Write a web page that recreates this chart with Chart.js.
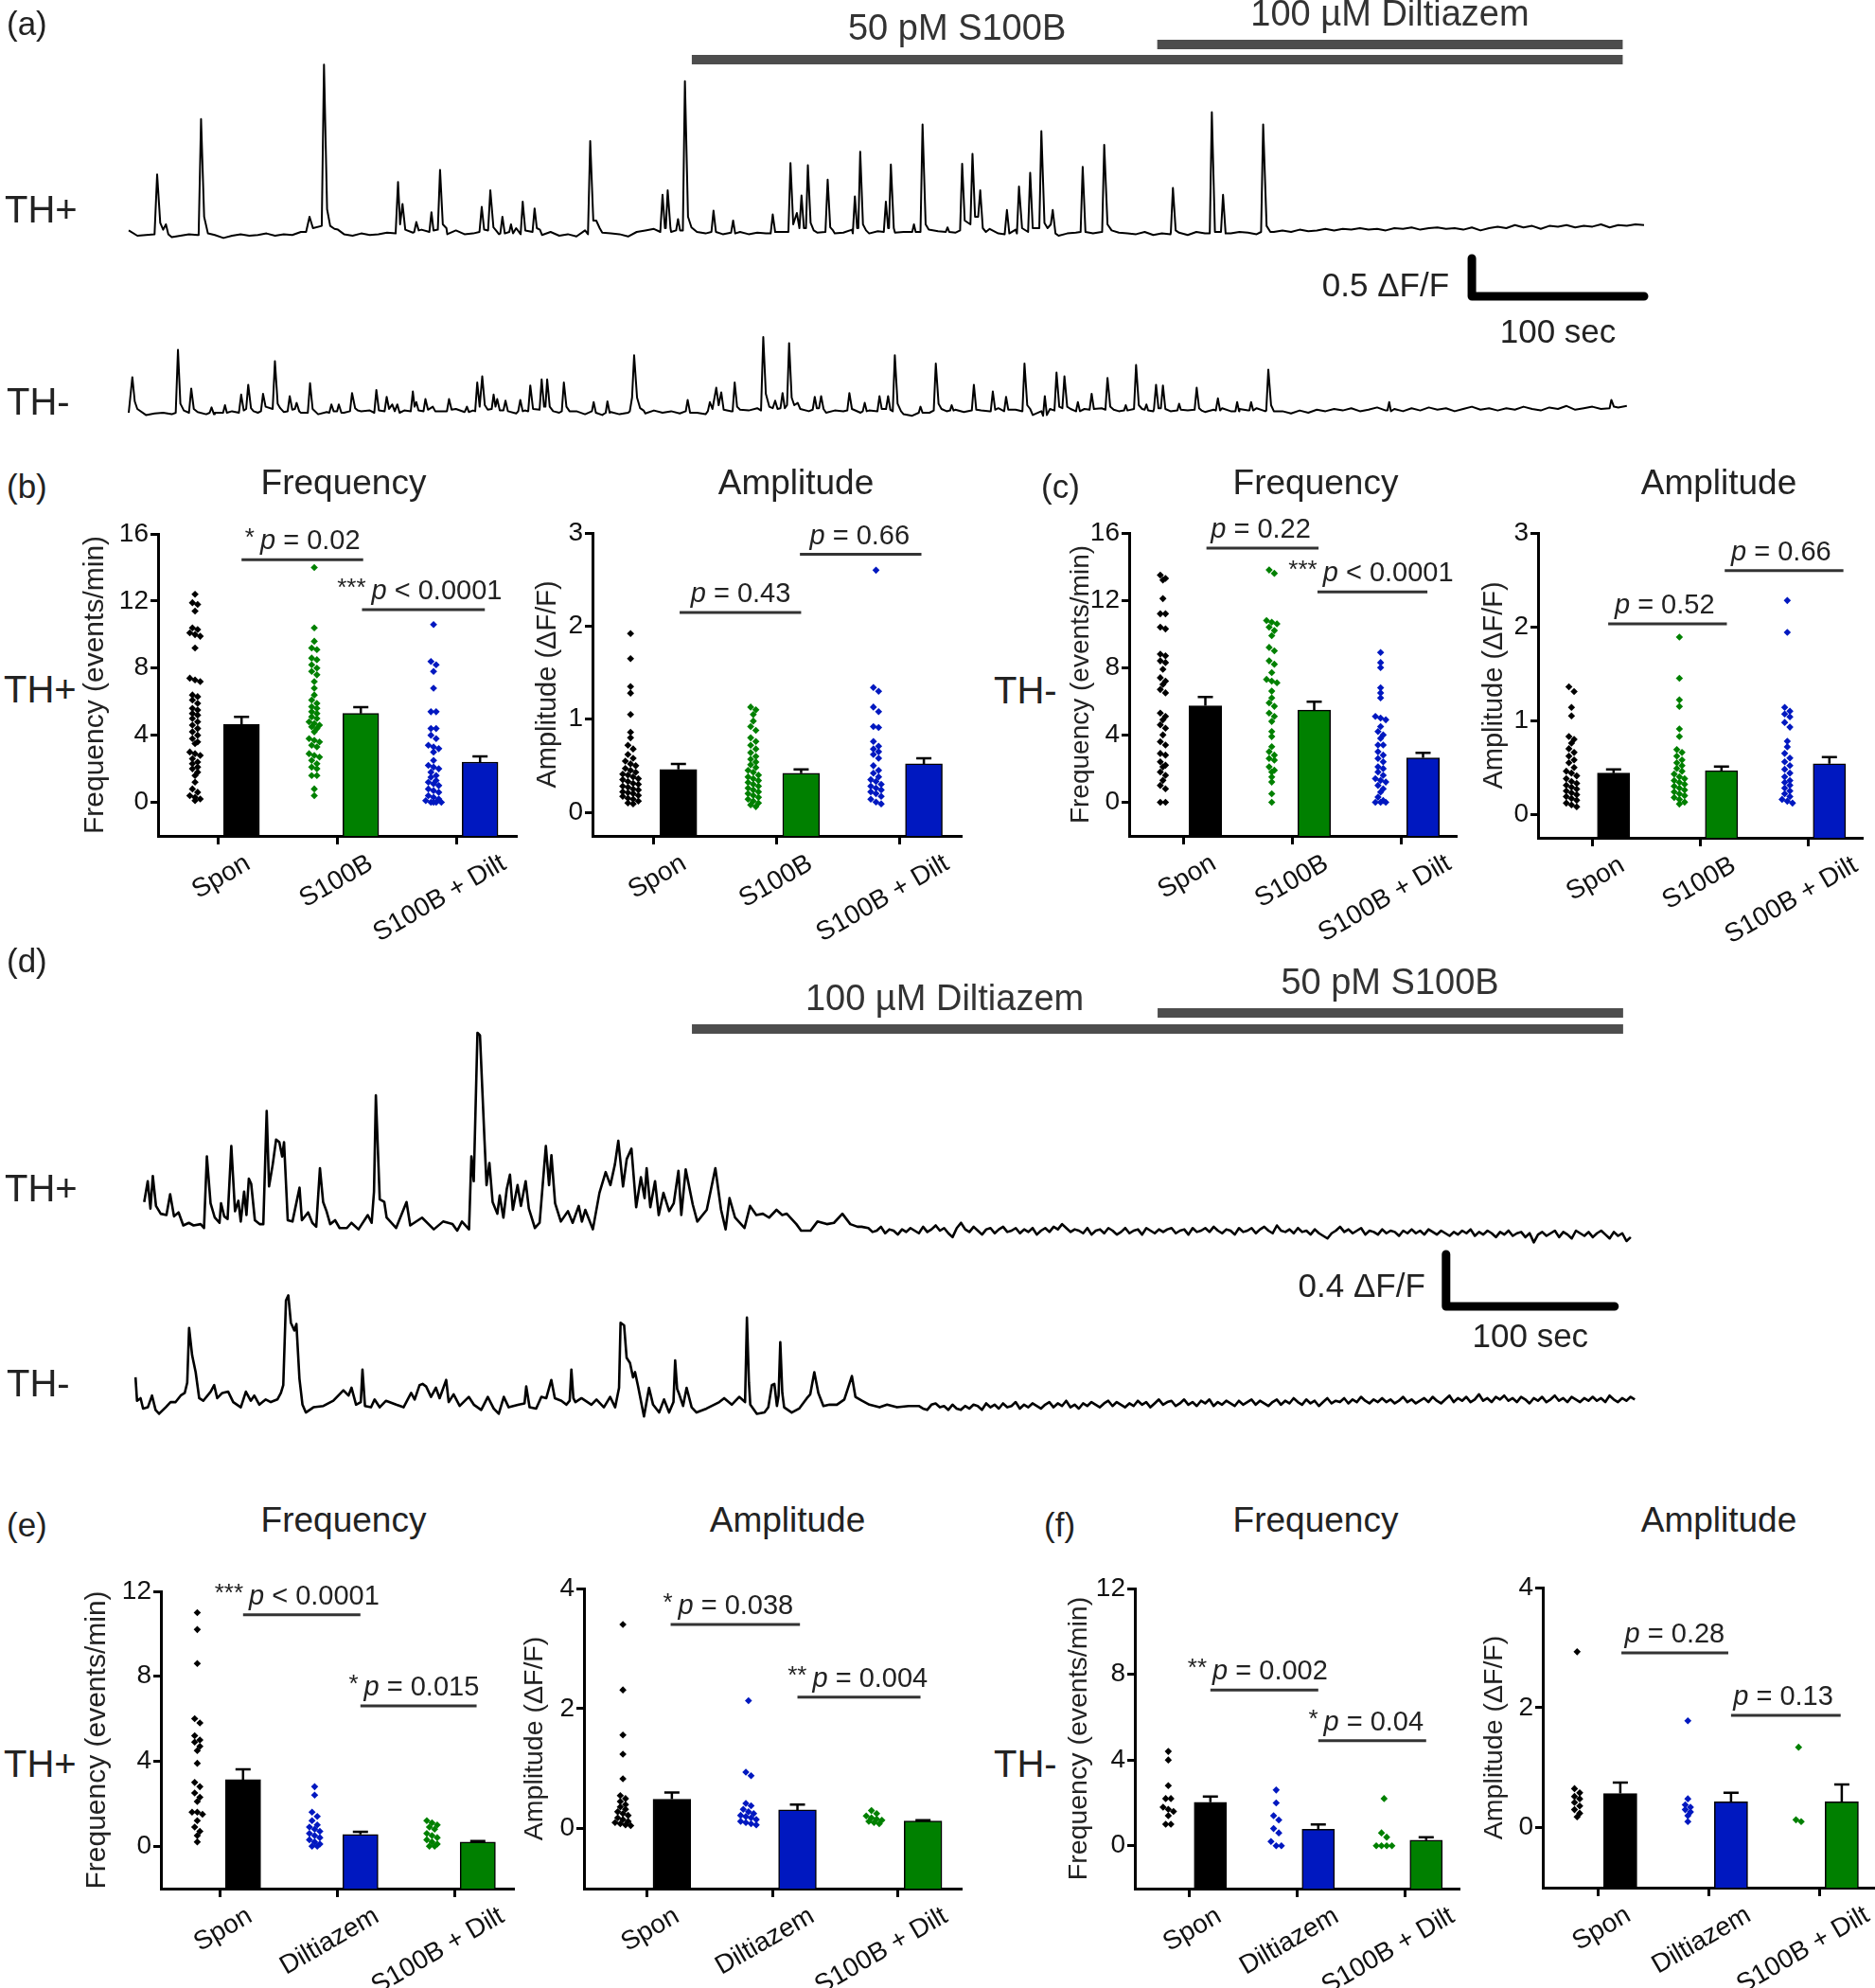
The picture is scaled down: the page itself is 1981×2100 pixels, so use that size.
<!DOCTYPE html>
<html>
<head>
<meta charset="utf-8">
<script src="https://cdn.jsdelivr.net/npm/chart.js@4.4.1/dist/chart.umd.min.js"></script>
<style>
  html, body { margin: 0; padding: 0; background: #fff; overflow: hidden; }
  #fig { position: relative; width: 1981px; height: 2100px; font-family: "Liberation Sans", Arial, sans-serif; color: #222; }
  #fig canvas { position: absolute; }
  .lbl { position: absolute; white-space: nowrap; line-height: 1; }
</style>
</head>
<body>
<div id="fig"></div>
<script>
// ---------- calcium traces (time in s, value in dF/F) ----------
// (a) TH+ : baseline every 5 s from t = 0, plus spikes
const aThPlusBase = [
  0.02,-0.05,-0.04,-0.06,-0.03,-0.07,-0.05,-0.03,-0.04,-0.06,
  -0.04,-0.08,-0.05,-0.03,-0.05,-0.04,-0.02,-0.05,-0.03,-0.04,
  0.0,0.02,-0.03,-0.02,-0.04,-0.03,-0.05,-0.02,-0.04,-0.03,
  -0.01,0.02,0.0,-0.01,0.03,-0.02,0.01,-0.03,0.02,-0.03,
  -0.02,0.04,0.0,-0.03,0.03,0.05,-0.02,0.0,-0.04,0.0,
  -0.05,-0.03,-0.06,0.02,0.03,-0.01,-0.02,-0.03,-0.06,0.0,
  0.02,0.04,0.01,0.0,0.02,-0.03,0.0,-0.02,0.01,-0.03,
  -0.02,0.0,-0.03,-0.01,-0.02,0.02,0.0,-0.01,0.0,0.01,
  -0.01,0.0,-0.02,-0.01,0.03,0.0,-0.02,0.01,0.0,-0.01,
  0.0,0.02,0.0,0.03,0.01,0.02,-0.01,0.03,0.02,0.0,
  0.04,-0.02,0.01,0.03,-0.04,-0.03,0.0,-0.05,-0.03,-0.02,
  -0.01,-0.03,-0.02,0.0,0.02,-0.01,-0.02,-0.03,0.0,-0.04,
  -0.02,-0.03,-0.01,-0.04,0.0,-0.02,0.0,-0.03,-0.02,0.0,
  -0.01,-0.03,-0.02,0.0,0.02,0.0,0.03,0.01,0.02,0.04,
  0.02,0.04,0.03,0.05,0.03,0.04,0.02,0.05,0.04,0.06,
  0.03,0.05,0.06,0.04,0.05,0.03,0.06,0.02,0.05,0.07,
  0.05,0.09,0.06,0.08,0.04,0.08,0.07,0.09,0.06,0.08,
  0.07,0.1,0.06,0.09,0.08,0.1,0.09
];
const aThPlusSpikes = [
  [[15,-0.03],[16.5,0.76],[18.3,0.12],[20,0.03],[21.6,0.1],[23,-0.03]],
  [[40.6,-0.04],[42,1.49],[43.8,0.2],[46,-0.02]],
  [[103,0.0],[105,0.2],[107,0.05],[112.1,0.08],[113.4,2.21],[115.2,0.3],[117,0.08],[119.5,0.04],[121.5,0.03]],
  [[155,-0.02],[156.4,0.66],[157.6,0.1],[159,0.37],[160.6,0.03]],
  [[165.8,0.0],[167,0.13],[168.4,0.02]],
  [[174.6,0.0],[175.8,0.26],[177,0.02],[179.5,0.03],[180.8,0.82],[182.4,0.1],[184.5,0.05]],
  [[203.7,0.0],[205,0.33],[206.4,0.03],[208.7,0.02],[210,0.55],[211.8,0.06],[213.3,0.02]],
  [[215.8,-0.02],[217,0.2],[218.4,-0.02],[221,0.0],[222,0.1],[223.2,-0.02]],
  [[227.6,-0.03],[228.8,0.4],[230.3,0.02]],
  [[234.5,0.0],[235.7,0.31],[237,0.05],[238.8,0.03]],
  [[266.7,-0.03],[268,1.2],[269.8,0.15],[271.5,0.15],[273.5,0.05]],
  [[308.7,0.0],[310,0.49],[311.4,0.05],[311.9,0.05],[313,0.55],[314.6,0.05]],
  [[317.9,0.02],[319,0.17],[320.2,0.02]],
  [[321.8,0.02],[323,1.99],[324.8,0.2],[326.8,0.06]],
  [[338.4,0.0],[339.6,0.28],[341,0.0]],
  [[349.8,-0.01],[351,0.15],[352.2,-0.02]],
  [[372.8,-0.02],[374,0.23],[375.4,0.0]],
  [[383.1,0.0],[384.3,0.91],[385.9,0.1],[388,0.25],[389.5,0.05],[390.7,0.48],[392.1,0.05],[393.3,0.05],[394.4,0.88],[396,0.12],[397.8,0.02]],
  [[404.6,0.0],[405.9,0.69],[407.4,0.06],[409,0.02]],
  [[420.5,-0.02],[421.7,0.47],[423,0.05],[423.7,0.05],[424.8,1.06],[426.4,0.1],[428.2,0.02]],
  [[438.5,0.0],[439.7,0.4],[441,0.05],[441.5,0.05],[442.6,0.89],[444.3,0.05]],
  [[455,0.0],[456,0.1],[457,0.0],[459.8,0.0],[461,1.42],[462.8,0.1],[464.6,0.03]],
  [[474.5,0.0],[475.5,0.06],[476.5,0.0]],
  [[482.8,0.02],[484,0.9],[485.5,0.15],[488.8,0.1],[490,1.03],[491.5,0.2],[493.3,0.2],[494.5,0.55],[496,0.05],[497.8,0.0]],
  [[508.7,-0.03],[510,0.29],[511.4,-0.02]],
  [[515.8,-0.02],[517,0.6],[518.8,0.05],[522.3,0.0],[523.5,0.78],[525,0.05],[528.8,0.05],[530,1.33],[531.8,0.12],[533.6,0.05],[535.5,0.1],[536.6,0.29],[538.2,-0.02],[540,-0.05]],
  [[552.8,0.0],[554,0.86],[555.6,0.0]],
  [[565.3,0.0],[566.5,1.15],[568.4,0.1],[570.8,0.02]],
  [[605.2,0.0],[606.4,0.58],[608,0.02]],
  [[627.8,-0.02],[629,1.58],[630.8,0.0],[634.3,0.0],[635.5,0.49],[637,-0.02]],
  [[657.6,0.0],[658.8,1.42],[660.8,0.08],[663,0.0]]
];

// (a) TH- : baseline every 5 s from t = 0, plus spikes
const aThMinusBase = [
  0.0,-0.02,-0.03,-0.01,0.0,-0.02,0.02,-0.01,0.01,-0.02,
  0.0,-0.03,0.02,-0.01,0.03,0.0,-0.02,0.03,0.01,-0.02,
  0.0,0.02,-0.02,0.01,0.04,0.0,-0.01,0.02,0.03,-0.01,
  0.02,-0.02,0.03,0.0,0.04,-0.01,0.02,0.0,0.05,0.01,
  0.03,0.0,0.04,-0.02,0.02,-0.01,0.03,0.0,-0.02,0.02,
  0.0,-0.03,0.02,-0.02,0.0,-0.03,0.01,-0.02,0.0,0.02,
  -0.01,0.03,0.0,0.02,-0.01,0.02,0.0,-0.02,0.03,0.01,
  0.02,0.05,0.03,0.06,0.02,0.04,0.01,0.03,0.05,0.02,
  0.04,0.0,0.03,0.02,0.05,0.0,0.03,0.02,0.04,0.01,
  -0.02,-0.04,-0.03,0.0,0.03,0.02,0.04,0.01,0.05,0.03,
  0.02,0.06,0.0,0.04,0.01,-0.03,0.02,0.05,0.03,0.04,
  0.02,0.05,0.0,0.06,0.03,0.02,0.07,0.03,0.05,0.02,
  0.04,0.02,0.06,0.03,0.05,0.01,0.04,0.06,0.02,0.05,
  0.03,0.06,0.02,0.0,0.02,-0.01,0.03,0.0,0.04,0.02,
  0.05,0.03,0.06,0.02,0.04,0.07,0.03,0.05,0.02,0.06,
  0.03,0.07,0.04,0.06,0.02,0.05,0.08,0.04,0.06,0.03,
  0.06,0.04,0.08,0.05,0.03,0.07,0.05,0.09,0.04,0.06,
  0.08,0.05,0.12,0.07,0.09
];
const aThMinusSpikes = [
  [[0.5,0.0],[2.1,0.47],[3.5,0.15],[5,0.05]],
  [[27.3,0.0],[28.6,0.83],[30,0.12],[32,0.03]],
  [[35,0.0],[36.3,0.32],[37.8,0.05]],
  [[47,0.0],[48.1,0.07],[49.5,-0.02]],
  [[54.8,0.0],[55.9,0.1],[57,0.0]],
  [[64,0.0],[65.3,0.24],[66.8,0.03],[68.2,0.05],[69.4,0.37],[71,0.06],[72.5,0.02]],
  [[76.8,0.02],[78,0.25],[79.5,0.08],[83.6,0.05],[84.9,0.68],[86.5,0.12],[88,0.06]],
  [[92.3,0.02],[93.5,0.22],[95,0.04],[96.5,0.05],[97.5,0.13],[99,0.02]],
  [[104,0.0],[105.3,0.39],[106.8,0.05]],
  [[116.5,0.0],[117.7,0.11],[119,0.02],[121,0.02],[122,0.11],[123.5,0.0]],
  [[128.5,0.02],[129.7,0.26],[131.5,0.06],[133,0.03]],
  [[142.6,0.0],[143.8,0.3],[145.3,0.03],[148.6,0.02],[149.8,0.21],[151.2,0.05],[153,0.11],[154.5,0.02],[156,0.11],[157.3,0.0]],
  [[163.8,0.02],[165,0.28],[166,0.08],[167,0.14],[168.3,0.03],[171.2,0.02],[172.3,0.18],[173.8,0.04],[176.6,0.08],[178,0.02]],
  [[184.8,0.02],[186,0.18],[187.5,0.04]],
  [[195.3,0.02],[196.4,0.08],[197.5,0.01]],
  [[201.2,0.02],[202.4,0.4],[203.8,0.08],[205.3,0.48],[206.8,0.1],[208.5,0.04],[210.8,0.05],[211.9,0.24],[213,0.08],[214,0.18],[215.5,0.03],[217.6,0.03],[218.8,0.16],[220.2,0.02]],
  [[226.2,0.02],[227.4,0.17],[228.8,0.02]],
  [[232,0.02],[233.2,0.36],[234.8,0.05],[238.6,0.04],[239.8,0.44],[241.2,0.08],[242,0.08],[243,0.44],[244.5,0.08],[246.5,0.02]],
  [[251.5,0.02],[252.7,0.4],[254.2,0.08],[256,0.02]],
  [[269,0.02],[270,0.14],[271.3,0.0]],
  [[277,0.0],[278,0.15],[279.3,0.0]],
  [[291,0.02],[292.3,0.2],[293.5,0.76],[295.2,0.2],[297,0.06],[299,0.03]],
  [[323.5,0.02],[324.6,0.17],[326,0.0]],
  [[336.3,0.02],[337.5,0.14],[339,0.05],[341.2,0.33],[342.6,0.1],[344.1,0.27],[345.5,0.04]],
  [[350.7,0.02],[351.9,0.4],[353.3,0.08],[355,0.04]],
  [[367.2,0.03],[368.5,1.0],[370,0.25],[372,0.08],[374,0.06],[375.4,0.16],[376.8,0.05],[378.5,0.06],[379.7,0.26],[381,0.06],[382.3,0.1],[383.5,0.92],[385,0.2],[386.5,0.1],[388.5,0.13],[390,0.05]],
  [[397.2,0.04],[398.4,0.21],[399.6,0.06],[400.9,0.06],[402.1,0.22],[403.5,0.05]],
  [[417.3,0.03],[418.5,0.26],[420,0.05]],
  [[426.3,0.02],[427.4,0.13],[428.6,0.02]],
  [[434.8,0.02],[436,0.22],[437.3,0.05],[439.8,0.05],[441,0.22],[442.3,0.04],[443.7,0.02],[444.9,0.76],[446.5,0.12],[448.5,0.02]],
  [[458.8,0.0],[459.8,0.08],[461,0.0]],
  [[467.5,0.03],[468.7,0.65],[470.3,0.12],[472,0.05]],
  [[477,0.03],[477.9,0.1],[479,0.03]],
  [[489.6,0.03],[490.8,0.37],[492.2,0.04]],
  [[500.6,0.02],[501.8,0.28],[503.2,0.04]],
  [[508.4,0.02],[509.5,0.21],[510.8,0.04]],
  [[519,0.02],[520.2,0.65],[521.8,0.1],[523.5,0.05]],
  [[531,-0.04],[532,0.22],[533.2,-0.03]],
  [[537.6,0.03],[538.8,0.53],[540.4,0.08],[542.2,0.06],[543.4,0.48],[545,0.08],[547,0.05]],
  [[550.2,0.03],[551.2,0.14],[552.4,0.02]],
  [[558,0.04],[559.2,0.25],[560.5,0.05]],
  [[567.2,0.04],[568.4,0.46],[570,0.08],[572,0.04]],
  [[578,0.03],[579,0.1],[580,0.03]],
  [[583.8,0.05],[585,0.63],[586.6,0.1],[588.5,0.05],[590,0.04],[591,0.11],[592,0.03]],
  [[595.4,0.05],[596.6,0.37],[598,0.06],[599.4,0.06],[600.6,0.36],[602,0.05]],
  [[609,0.03],[610,0.12],[611,0.04]],
  [[619,0.04],[620.2,0.33],[621.6,0.06],[623,0.03]],
  [[631.3,0.03],[632.5,0.19],[633.8,0.03]],
  [[642.7,0.02],[643.7,0.14],[644.8,0.02]],
  [[650.8,0.03],[651.8,0.14],[653,0.03]],
  [[660.6,0.03],[661.8,0.57],[663.4,0.1],[665,0.02]],
  [[731,0.03],[732,0.14],[733,0.02]],
  [[860,0.06],[861,0.17],[862.5,0.08]]
];

// (d) TH+ : read point by point over the active part, then every 2.5 s from t = 430
const dThPlusActive = [
  [0.2,0.22],[2.3,0.38],[3.9,0.17],[5.3,0.42],[7.2,0.19],[10,0.13],[13.4,0.12],[15.6,0.28],[17.9,0.11],[20.6,0.14],
  [23.4,0.04],[26.7,0.06],[29.5,0.04],[33.7,0.05],[35.7,0.02],[37.4,0.57],[39.6,0.21],[42.1,0.1],[44.9,0.06],[45.8,0.21],
  [47.7,0.11],[49.7,0.09],[51.9,0.65],[54.1,0.15],[56.1,0.23],[57.5,0.07],[59.5,0.3],[60.9,0.12],[62.3,0.4],[63.7,0.36],
  [65.9,0.08],[68.7,0.05],[70.9,0.05],[72.9,0.92],[74.3,0.34],[76.5,0.51],[78.5,0.7],[80.4,0.68],[82.1,0.57],[83.2,0.68],
  [85.4,0.08],[88.2,0.07],[92.4,0.33],[93.8,0.08],[97.5,0.14],[100,0.06],[102.3,0.03],[104.5,0.48],[106.4,0.22],[108.4,0.15],
  [110.6,0.05],[113.5,0.08],[116.2,0.02],[120.5,0.02],[123.2,0.06],[127.4,0.01],[132.9,0.12],[135.2,0.06],[136.6,0.3],[137.7,1.04],
  [140,0.24],[142.7,0.22],[144.1,0.1],[149.7,0.02],[155.9,0.22],[158.1,0.04],[165.1,0.1],[172.1,0.01],[177.6,0.07],[183.2,0.05],
  [186,0.0],[188.8,0.07],[193,0.01],[194.4,0.57],[195.8,0.38],[198,1.52],[199.5,1.5],[202.2,0.69],[203.4,0.35],[205.1,0.52],
  [207,0.22],[209.8,0.13],[211.2,0.27],[213.4,0.1],[215.4,0.32],[217.3,0.43],[219,0.16],[221.8,0.35],[223.8,0.19],[226.6,0.38],
  [228.5,0.17],[232.1,0.02],[234.9,0.06],[238.6,0.65],[240.5,0.35],[241.9,0.58],[244.1,0.21],[247.5,0.07],[251.7,0.15],[254.5,0.06],
  [258.1,0.19],[260,0.07],[262,0.16],[266.5,0.01],[270.4,0.29],[274.1,0.45],[276.9,0.35],[279.6,0.51],[281.6,0.69],[284.4,0.34],
  [286.6,0.55],[289.4,0.63],[292.2,0.18],[295,0.41],[297.2,0.25],[298.4,0.48],[300.6,0.18],[303.4,0.38],[305.6,0.12],[308.4,0.29],
  [311.8,0.15],[314.5,0.21],[317.3,0.46],[319,0.12],[321.6,0.47],[325.8,0.2],[328.5,0.07],[334.1,0.16],[339.2,0.48],[342.6,0.16],
  [345.3,0.01],[347.6,0.25],[350.9,0.1],[356.5,0.02],[359.8,0.19],[363.5,0.12],[367.4,0.13],[371.1,0.1],[375.5,0.16],[378.9,0.12],
  [381.6,0.13],[387.3,0.05],[390.1,0.0],[395.7,0.0],[399.8,0.07],[405.4,0.05],[409.6,0.06],[414.6,0.13],[419.3,0.05],[423.6,0.03],
  [426,0.03]
];
const dThPlusTail = [
  0.02,-0.01,0.0,0.03,-0.02,0.01,0.0,-0.03,0.01,-0.01,
  0.02,0.0,-0.02,0.03,-0.01,0.01,0.04,0.0,0.02,-0.02,
  -0.05,0.02,0.06,0.01,-0.01,0.03,0.0,-0.03,0.01,0.02,
  -0.02,0.01,0.03,-0.01,0.0,0.02,-0.02,0.01,-0.01,0.02,
  -0.03,0.0,0.02,-0.01,0.03,0.01,0.05,0.02,-0.01,0.01,
  0.0,-0.02,0.02,-0.03,0.0,0.01,-0.02,0.02,0.0,-0.03,
  -0.01,0.02,-0.02,0.0,0.01,-0.03,0.02,0.0,-0.02,0.01,
  -0.01,0.01,0.02,-0.02,0.0,0.01,-0.03,0.02,-0.01,0.0,
  0.02,-0.01,0.03,0.0,-0.02,0.01,0.0,-0.03,0.02,-0.01,
  0.0,0.02,-0.02,0.01,0.03,0.0,-0.02,0.04,0.0,-0.01,
  0.01,-0.02,0.02,-0.01,0.0,-0.03,0.01,-0.02,-0.04,-0.06,
  -0.02,0.0,0.03,-0.01,0.01,-0.02,0.0,0.02,-0.03,0.0,
  -0.01,-0.03,0.01,-0.02,0.0,-0.01,-0.04,0.0,-0.02,0.01,
  -0.02,0.0,-0.03,0.01,-0.01,-0.03,0.0,-0.02,-0.04,-0.01,
  -0.03,0.0,-0.02,0.01,-0.04,-0.01,-0.03,0.0,-0.02,-0.05,
  -0.01,-0.03,0.0,-0.04,-0.02,-0.01,-0.05,-0.02,-0.09,-0.03,
  -0.01,-0.04,-0.02,0.0,-0.05,-0.01,-0.03,-0.06,0.0,-0.02,
  -0.04,-0.01,-0.05,-0.02,0.0,-0.03,-0.06,-0.01,-0.04,-0.02,
  -0.08,-0.05
];

// (d) TH- : read point by point over the active part, then every 2.5 s from t = 465
const dThMinusActive = [
  [0.1,0.24],[1.0,0.06],[3.1,0.08],[4.6,0.0],[7.4,0.01],[9.9,0.1],[12,-0.01],[14.1,-0.04],[18,0.01],[20.9,0.05],
  [23.9,0.05],[26.9,0.1],[29.3,0.12],[30.8,0.2],[31.9,0.62],[33.7,0.41],[35.8,0.28],[37.9,0.08],[40.3,0.06],[44.7,0.13],
  [46.8,0.18],[48.6,0.08],[51.6,0.12],[55.1,0.13],[58.1,0.05],[62.6,0.01],[65.6,0.13],[68.5,0.06],[70.6,0.1],[73.6,0.03],
  [77.4,0.07],[80.4,0.05],[84.3,0.07],[86.4,0.12],[87.8,0.18],[89.4,0.83],[90.8,0.87],[92.3,0.66],[94.4,0.6],[95.6,0.65],
  [97.4,0.23],[99.2,0.03],[101.2,-0.03],[105.7,0.01],[111.6,0.02],[117.5,0.06],[122,0.12],[123.5,0.14],[126.5,0.1],[128.3,0.16],
  [131,0.03],[133.8,0.05],[134.8,0.3],[136.3,0.02],[139.9,0.01],[142,0.07],[145,0.01],[148.8,0.06],[154.8,0.03],[159.2,0.01],
  [163.7,0.12],[165.8,0.07],[168.7,0.18],[170.5,0.19],[172.6,0.17],[175.5,0.09],[178.4,0.16],[180.6,0.08],[184.5,0.22],[186,0.05],
  [188.9,0.11],[192.5,0.02],[197.9,0.09],[200.9,0.03],[205.3,-0.01],[209.2,0.09],[212.7,0.0],[215.7,-0.04],[218.7,0.09],[221.6,0.01],
  [227.6,0.03],[231,0.04],[232,0.17],[234,0.01],[237.9,0.0],[241,0.09],[243.9,0.08],[246.9,0.22],[249,0.08],[252.9,0.06],
  [255.8,0.03],[257.8,0.06],[258.8,0.3],[260,0.08],[261.2,0.05],[264.8,0.08],[270.7,0.03],[273.7,0.07],[278.1,0.01],[281.8,0.09],
  [284.8,0.01],[287.1,0.16],[288,0.66],[290.1,0.64],[291.6,0.39],[293.6,0.35],[295.4,0.24],[296.6,0.28],[298.4,0.17],[301.9,-0.06],
  [304.9,0.16],[307.3,0.03],[310.9,-0.03],[313.8,0.07],[316.8,-0.03],[319.4,0.05],[320.4,0.37],[321.6,0.15],[322.8,0.11],[325.1,0.02],
  [327.2,0.16],[330.2,0.01],[333.1,-0.03],[339,0.0],[346.6,0.05],[349.5,0.08],[354,0.03],[358.4,0.09],[361.9,0.05],[363,0.7],
  [364.2,0.2],[365,0.03],[368.9,-0.04],[373.4,-0.03],[375.7,0.01],[377.8,0.18],[379.3,0.19],[380.8,0.02],[381.8,0.1],[382.8,0.51],
  [384,0.12],[385.1,0.01],[389.6,-0.03],[394,0.0],[398.6,0.08],[400.6,0.11],[403,0.28],[405.4,0.12],[408.4,0.02],[412,0.03],
  [416.4,0.03],[420.8,0.07],[425.3,0.25],[427.4,0.09],[431.3,0.06],[435.7,0.03],[441.7,0.01],[446.2,0.03],[452.1,0.01],[459,0.02]
];
const dThMinusTail = [
  0.02,0.0,-0.01,0.03,0.04,0.01,0.02,-0.01,0.03,0.0,
  -0.01,0.02,0.0,0.03,0.02,-0.01,0.04,0.01,0.03,0.0,
  0.04,0.01,0.02,0.05,0.0,0.03,0.01,0.04,0.02,0.0,
  0.03,0.05,0.01,0.04,0.02,0.06,0.01,0.03,0.0,0.04,
  0.02,0.05,0.03,0.01,0.04,0.06,0.02,0.05,0.03,0.01,
  0.04,0.02,0.06,0.03,0.05,0.01,0.04,0.07,0.03,0.05,
  0.06,0.02,0.04,0.07,0.03,0.05,0.02,0.06,0.04,0.07,
  0.02,0.05,0.03,0.06,0.04,0.02,0.06,0.03,0.05,0.07,
  0.03,0.06,0.04,0.02,0.05,0.07,0.03,0.06,0.04,0.08,
  0.05,0.03,0.07,0.04,0.06,0.02,0.05,0.08,0.04,0.06,
  0.05,0.08,0.04,0.07,0.05,0.09,0.06,0.04,0.07,0.05,
  0.08,0.05,0.07,0.04,0.06,0.09,0.05,0.07,0.04,0.06,
  0.08,0.05,0.09,0.06,0.04,0.07,0.1,0.05,0.08,0.06,
  0.09,0.05,0.07,0.11,0.06,0.08,0.05,0.09,0.07,0.1,
  0.06,0.08,0.05,0.09,0.07,0.04,0.08,0.06,0.09,0.05,
  0.07,0.1,0.06,0.08,0.05,0.09,0.07,0.05,0.08,0.06,
  0.09,0.06,0.08,0.05,0.1,0.07,0.05,0.08,0.06,0.09,
  0.07
];

// ---------- summary plots ----------
const catsB = ['Spon', 'S100B', 'S100B + Dilt'];
const catsE = ['Spon', 'Diltiazem', 'S100B + Dilt'];

// (b) TH+
const bFreqSpon = [12.4,11.9,11.8,11.4,10.4,10.3,10.1,10.0,9.9,9.2,7.4,7.3,7.2,6.4,6.3,6.1,5.9,5.6,5.5,5.3,5.2,5.0,4.8,4.6,4.4,4.2,4.0,3.8,3.6,3.5,3.0,2.9,2.8,2.6,2.4,2.3,2.1,2.0,1.8,1.6,1.2,0.8,0.6,0.4,0.3,0.2,0.1];
const bFreqS100b = [14.0,10.4,9.6,9.2,9.1,8.6,8.5,8.2,8.0,7.8,7.6,7.2,6.8,6.4,6.1,5.9,5.7,5.6,5.4,5.3,5.1,5.0,4.8,4.7,4.6,4.5,4.4,4.2,3.8,3.7,3.6,3.4,3.3,2.9,2.8,2.7,2.5,2.3,2.1,2.0,1.6,1.6,0.8,0.4];
const bFreqDilt = [10.6,8.4,8.2,7.8,6.8,5.4,5.4,4.4,4.4,4.0,3.8,3.4,3.3,3.2,3.0,2.5,2.2,2.1,2.0,1.8,1.6,1.5,1.3,1.2,1.1,1.0,0.8,0.7,0.6,0.4,0.3,0.2,0.1,0,0,0,0];
const bFreqMean = [4.65, 5.3, 2.4];
const bFreqSem = [0.45, 0.37, 0.34];
const bAmpSpon = [1.92,1.65,1.35,1.28,1.05,0.86,0.8,0.72,0.68,0.62,0.58,0.55,0.52,0.5,0.47,0.45,0.43,0.41,0.4,0.38,0.36,0.35,0.33,0.31,0.3,0.28,0.27,0.25,0.24,0.22,0.21,0.2,0.18,0.17,0.15,0.14,0.12,0.1,0.09];
const bAmpS100b = [1.13,1.1,1.05,0.98,0.92,0.88,0.8,0.76,0.72,0.68,0.64,0.6,0.57,0.54,0.51,0.48,0.45,0.43,0.4,0.38,0.36,0.34,0.32,0.3,0.28,0.26,0.24,0.22,0.2,0.18,0.16,0.14,0.12,0.1,0.08,0.06];
const bAmpDilt = [2.6,1.34,1.3,1.13,1.08,0.92,0.91,0.76,0.71,0.68,0.65,0.62,0.58,0.5,0.45,0.42,0.38,0.35,0.33,0.3,0.28,0.26,0.24,0.22,0.2,0.17,0.14,0.11,0.09];
const bAmpMean = [0.46, 0.42, 0.52];
const bAmpSem = [0.06, 0.04, 0.06];

// (c) TH-
const cFreqSpon = [13.5,13.3,13.2,12.1,11.2,11.2,10.4,10.3,8.8,8.7,8.4,8.3,7.9,7.4,7.2,7.0,6.7,6.5,5.3,5.1,4.9,4.6,4.4,4.0,3.6,3.4,2.9,2.8,2.4,2.2,2.1,1.8,1.6,1.3,1.0,0.8,0,0];
const cFreqS100b = [13.8,13.6,10.8,10.7,10.6,10.4,10.2,9.9,9.2,9.0,8.4,8.2,7.7,7.3,7.2,7.1,6.6,6.2,5.9,5.7,5.3,5.1,4.8,4.2,3.9,3.3,3.0,2.8,2.6,2.5,2.1,1.9,1.8,1.5,1.2,0.5,0];
const cFreqDilt = [8.9,8.3,8.0,6.8,6.5,6.2,5.1,5.0,4.9,4.5,4.2,4.0,3.8,3.4,3.4,3.0,2.8,2.6,2.4,2.1,2.0,1.8,1.6,1.4,1.3,1.2,1.0,0.8,0.6,0.3,0.1,0,0,0];
const cFreqMean = [5.73, 5.47, 2.64];
const cFreqSem = [0.52, 0.5, 0.3];
const cAmpSpon = [1.36,1.31,1.14,1.05,0.83,0.8,0.76,0.7,0.66,0.62,0.58,0.55,0.5,0.46,0.44,0.41,0.38,0.35,0.33,0.31,0.29,0.27,0.25,0.23,0.21,0.19,0.17,0.15,0.12,0.1,0.08];
const cAmpS100b = [1.89,1.45,1.22,1.15,0.91,0.83,0.69,0.66,0.62,0.58,0.55,0.52,0.49,0.46,0.43,0.4,0.38,0.36,0.34,0.32,0.3,0.28,0.26,0.24,0.22,0.2,0.18,0.16,0.13,0.11];
const cAmpDilt = [2.28,1.94,1.14,1.1,1.07,1.04,0.98,0.93,0.78,0.72,0.65,0.6,0.56,0.52,0.48,0.44,0.4,0.36,0.34,0.31,0.28,0.25,0.22,0.19,0.16,0.14,0.12];
const cAmpMean = [0.44, 0.465, 0.54];
const cAmpSem = [0.04, 0.045, 0.07];

// (e) TH+
const eFreqSpon = [11.0,10.2,8.6,6.0,5.8,5.2,5.0,4.9,4.7,4.5,3.9,3.0,2.8,2.5,2.3,2.1,1.6,1.6,1.5,1.2,0.9,0.7,0.5,0.2];
const eFreqDilt = [2.8,2.4,1.6,1.4,1.2,1.0,0.9,0.8,0.7,0.6,0.5,0.4,0.3,0.2,0.1,0,0];
const eFreqS100b = [1.2,1.1,1.0,0.9,0.8,0.6,0.5,0.4,0.3,0.2,0.1,0,0];
const eFreqMean = [3.13, 0.55, 0.19];
const eFreqSem = [0.49, 0.12, 0.05];
const eAmpSpon = [3.4,2.31,1.56,1.24,0.83,0.55,0.5,0.45,0.4,0.36,0.32,0.28,0.25,0.22,0.18,0.15,0.12,0.1,0.08,0.06,0.05];
const eAmpDilt = [2.13,0.94,0.88,0.42,0.38,0.32,0.28,0.25,0.22,0.2,0.18,0.15,0.12,0.1,0.08,0.06];
const eAmpS100b = [0.3,0.25,0.21,0.18,0.16,0.14,0.12,0.1,0.08];
const eAmpMean = [0.49, 0.31, 0.125];
const eAmpSem = [0.11, 0.09, 0.015];

// (f) TH-
const fFreqSpon = [4.4,4.0,2.8,2.2,2.2,1.8,1.7,1.6,1.4,1.0,1.0];
const fFreqDilt = [2.6,2.0,1.4,1.2,0.8,0.6,0.2,0,0];
const fFreqS100b = [2.2,0.6,0.4,0,0,0,0];
const fFreqMean = [2.03, 0.77, 0.26];
const fFreqSem = [0.27, 0.22, 0.14];
const fAmpSpon = [2.93,0.65,0.58,0.52,0.48,0.42,0.36,0.3,0.24,0.18];
const fAmpDilt = [1.78,0.48,0.38,0.34,0.3,0.26,0.2,0.1];
const fAmpS100b = [1.34,0.13,0.1];
const fAmpMean = [0.57, 0.43, 0.43];
const fAmpSem = [0.18, 0.15, 0.29];

// ---------- helpers ----------
const FONT = '"Liberation Sans", Arial, sans-serif';
Chart.defaults.font.family = FONT;
Chart.defaults.color = '#111';
Chart.defaults.animation = false;

// the axis numbers in the figure are set in a narrow face; use one if it is installed
function hasFont(name) {
  const c = document.createElement('canvas').getContext('2d');
  c.font = '40px monospace';
  const w0 = c.measureText('0123456789 abc').width;
  c.font = '40px "' + name + '", monospace';
  return c.measureText('0123456789 abc').width !== w0;
}
const TICK_FONT = hasFont('Liberation Sans Narrow')
  ? {family: '"Liberation Sans Narrow", "Liberation Sans", Arial, sans-serif', size: 31}
  : {size: 28};

const BLACK = '#000000', GREEN = '#008000', BLUE = '#0018c0';
const fig = document.getElementById('fig');

function addCanvas(left, top, width, height) {
  const c = document.createElement('canvas');
  c.width = Math.round(width);
  c.height = Math.round(height);
  c.style.left = left + 'px';
  c.style.top = top + 'px';
  c.style.width = c.width + 'px';
  c.style.height = c.height + 'px';
  fig.appendChild(c);
  return c;
}

function addLabel(text, x, baseline, size, align) {
  const d = document.createElement('div');
  d.className = 'lbl';
  d.textContent = text;
  d.style.left = x + 'px';
  d.style.top = (baseline - 0.8465 * size) + 'px';
  d.style.fontSize = size + 'px';
  if (align === 'center') d.style.transform = 'translateX(-50%)';
  fig.appendChild(d);
}

function series(start, step, values) {
  return values.map((v, i) => ({x: start + i * step, y: v}));
}

function mergeTrace(start, step, base, spikes) {
  const out = series(start, step, base).filter(p =>
    !spikes.some(s => p.x >= s[0][0] && p.x <= s[s.length - 1][0]));
  spikes.forEach(s => s.forEach(([x, y]) => out.push({x, y})));
  return out.sort((a, b) => a.x - b.x);
}

// trace panel: line drawn through hidden linear axes, plus drug bars and scale bar
function traceChart(s) {
  const b = s.box, a = s.area;
  const canvas = addCanvas(b.left, b.top, b.width, b.height);
  const extras = {
    id: 'traceExtras',
    afterDatasetsDraw(chart) {
      const ctx = chart.ctx, xs = chart.scales.x, ys = chart.scales.y;
      ctx.save();
      (s.drugs || []).forEach(d => {
        const x0 = xs.getPixelForValue(d.t0), x1 = xs.getPixelForValue(d.t1);
        ctx.fillStyle = '#4d4d4d';
        ctx.fillRect(x0, d.y - b.top, x1 - x0, 10);
        ctx.fillStyle = '#333';
        ctx.font = '38px ' + FONT;
        ctx.textAlign = 'center';
        ctx.textBaseline = 'alphabetic';
        ctx.fillText(d.label, xs.getPixelForValue(d.tl), d.bl - b.top);
      });
      if (s.scale) {
        const sc = s.scale;
        const x0 = xs.getPixelForValue(sc.t0), x1 = xs.getPixelForValue(sc.t0 + sc.dt);
        const y0 = ys.getPixelForValue(sc.v0), y1 = ys.getPixelForValue(sc.v0 + sc.dv);
        ctx.strokeStyle = '#000';
        ctx.lineWidth = 9;
        ctx.lineCap = 'round';
        ctx.lineJoin = 'round';
        ctx.beginPath();
        ctx.moveTo(x0, y1);
        ctx.lineTo(x0, y0);
        ctx.lineTo(x1, y0);
        ctx.stroke();
        ctx.fillStyle = '#222';
        ctx.font = '35px ' + FONT;
        ctx.textBaseline = 'alphabetic';
        ctx.textAlign = 'right';
        ctx.fillText(sc.vText, x0 + sc.vDx, y0 + sc.vDy);
        ctx.textAlign = 'center';
        ctx.fillText(sc.tText, (x0 + x1) / 2, y0 + sc.tDy);
      }
      ctx.restore();
    }
  };
  new Chart(canvas, {
    type: 'line',
    data: {datasets: [{
      data: s.data, borderColor: '#000', borderWidth: s.lw, pointRadius: 0,
      tension: 0, clip: false, borderJoinStyle: 'round'
    }]},
    options: {
      responsive: false, devicePixelRatio: 1, animation: false,
      layout: {padding: {left: a.left - b.left, right: b.left + b.width - a.right,
                         top: a.top - b.top, bottom: b.top + b.height - a.bottom}},
      plugins: {legend: {display: false}, tooltip: {enabled: false}},
      scales: {
        x: {type: 'linear', display: false, min: 0, max: s.xMax},
        y: {type: 'linear', display: false, min: s.yMin, max: s.yMax}
      }
    },
    plugins: [extras]
  });
}

// scatter columns: points within a few pixels of each other are set side by side
function spread(vals, center, pxPerUnit, catPx) {
  const sorted = vals.slice().sort((p, q) => q - p);
  const rowH = 5 / pxPerUnit, dx = 5.5 / catPx;
  const out = [];
  let row = [];
  const flush = () => {
    row.forEach((v, k) => out.push({x: center + (k - (row.length - 1) / 2) * dx, y: v}));
    row = [];
  };
  sorted.forEach(v => {
    if (row.length && (row[0] - v > rowH || row.length >= 4)) flush();
    row.push(v);
  });
  flush();
  return out;
}

const DOT_POS = 0.31, BAR_POS = 0.7;

function groupChart(s) {
  const padTop = 40, padRight = 14, H = 125;
  const titleSize = s.titleSize || 30;
  const cLeft = Math.round(s.titleX - 0.6 * titleSize);
  const W = s.left - cLeft;
  const cTop = s.top - padTop;
  const canvas = addCanvas(cLeft, cTop, s.right + padRight - cLeft, s.bottom - cTop + H);
  const catPx = (s.right - s.left) / 3;
  const pxPerUnit = (s.bottom - s.top) / (s.yMax - s.yMin);

  const datasets = s.groups.map((vals, i) => ({
    type: 'scatter',
    data: spread(vals, i + DOT_POS, pxPerUnit, catPx),
    pointStyle: 'rectRot', pointRadius: 3.8, pointBorderWidth: 0,
    backgroundColor: s.colors[i], pointBackgroundColor: s.colors[i]
  }));
  datasets.push({
    type: 'bar',
    data: s.means.map((m, i) => ({x: i + BAR_POS, y: m})),
    backgroundColor: s.colors, borderColor: '#000', borderWidth: 1.5,
    barThickness: 0.3 * catPx, base: s.yMin
  });

  const extras = {
    id: 'groupExtras',
    afterDatasetsDraw(chart) {
      const ctx = chart.ctx, xs = chart.scales.x, ys = chart.scales.y;
      ctx.save();
      // error bars (mean + SEM)
      ctx.strokeStyle = '#000';
      ctx.lineWidth = 2.5;
      s.means.forEach((m, i) => {
        const x = xs.getPixelForValue(i + BAR_POS);
        const y0 = ys.getPixelForValue(m), y1 = ys.getPixelForValue(m + s.sems[i]);
        ctx.beginPath();
        ctx.moveTo(x, y0); ctx.lineTo(x, y1);
        ctx.moveTo(x - 8, y1); ctx.lineTo(x + 8, y1);
        ctx.stroke();
      });
      // significance brackets
      s.sig.forEach(g => {
        const y = ys.getPixelForValue(g.y);
        ctx.strokeStyle = '#333';
        ctx.lineWidth = 3;
        ctx.beginPath();
        ctx.moveTo(xs.getPixelForValue(g.x1), y);
        ctx.lineTo(xs.getPixelForValue(g.x2), y);
        ctx.stroke();
        const bl = y - 11;
        let x = xs.getPixelForValue(g.tx);
        ctx.fillStyle = '#222';
        ctx.textBaseline = 'alphabetic';
        if (g.stars) {
          ctx.font = '26px ' + FONT;
          ctx.textAlign = 'right';
          ctx.fillText(g.stars, x - 6, bl - 4);
        }
        ctx.textAlign = 'left';
        ctx.font = 'italic 29px ' + FONT;
        ctx.fillText('p', x, bl);
        x += ctx.measureText('p').width;
        ctx.font = '29px ' + FONT;
        ctx.fillText(' ' + g.txt, x, bl);
      });
      // rotated category labels
      ctx.fillStyle = '#111';
      ctx.font = '28px ' + FONT;
      ctx.textAlign = 'right';
      ctx.textBaseline = 'top';
      const axisY = chart.chartArea.bottom;
      s.cats.forEach((c, i) => {
        const w = ctx.measureText(c).width;
        ctx.save();
        ctx.translate(xs.getPixelForValue(i + 0.5) + 12 + 0.2 * w, axisY + 15);
        ctx.rotate(-Math.PI / 6);
        ctx.fillText(c, 0, 0);
        ctx.restore();
      });
      ctx.restore();
    }
  };

  new Chart(canvas, {
    type: 'bar',
    data: {datasets},
    options: {
      responsive: false, devicePixelRatio: 1, animation: false,
      layout: {padding: {left: 0, top: padTop, right: padRight, bottom: 0}},
      plugins: {legend: {display: false}, tooltip: {enabled: false}},
      scales: {
        x: {
          type: 'linear', min: 0, max: 3, offset: false,
          afterBuildTicks: sc => { sc.ticks = [0.5, 1.5, 2.5].map(v => ({value: v})); },
          afterFit: sc => { sc.height = H; },
          ticks: {display: false},
          grid: {offset: false, drawOnChartArea: false, drawTicks: true, tickLength: 9,
                 tickWidth: 3, lineWidth: 3, tickColor: '#000', color: '#000'},
          border: {display: true, width: 3, color: '#000'}
        },
        y: {
          type: 'linear', min: s.yMin, max: s.yMax,
          afterBuildTicks: sc => { sc.ticks = s.ticks.map(v => ({value: v})); },
          afterFit: sc => { sc.width = W; },
          ticks: {font: TICK_FONT, color: '#111', padding: 2},
          grid: {drawOnChartArea: false, drawTicks: true, tickLength: 8,
                 tickWidth: 3, lineWidth: 3, tickColor: '#000', color: '#000'},
          border: {display: true, width: 3, color: '#000'},
          title: {display: true, text: s.title, font: {size: titleSize}, color: '#222', padding: {top: 0, bottom: 0}}
        }
      }
    },
    plugins: [extras]
  });
}

// ---------- panel (a) ----------
traceChart({
  box: {left: 0, top: 0, width: 1981, height: 380},
  area: {left: 136, right: 1737, top: 60, bottom: 260},
  xMax: 880, yMin: -0.1875, yMax: 2.3125, lw: 2,
  data: mergeTrace(0, 5, aThPlusBase, aThPlusSpikes),
  drugs: [
    {label: '50 pM S100B', t0: 327, t1: 867.6, y: 58, tl: 481, bl: 42},
    {label: '100 µM Diltiazem', t0: 597.3, t1: 867.6, y: 42, tl: 732.4, bl: 27}
  ],
  scale: {t0: 780, dt: 100, v0: -0.85, dv: 0.5, vText: '0.5 ΔF/F', vDx: -24, vDy: 0,
          tText: '100 sec', tDy: 49}
});
traceChart({
  box: {left: 0, top: 330, width: 1981, height: 130},
  area: {left: 136, right: 1737, top: 340, bottom: 450},
  xMax: 880, yMin: -0.175, yMax: 1.2, lw: 2,
  data: mergeTrace(0, 5, aThMinusBase, aThMinusSpikes)
});

// ---------- panel (d) ----------
traceChart({
  box: {left: 0, top: 1000, width: 1981, height: 440},
  area: {left: 152, right: 1722, top: 1080, bottom: 1320},
  xMax: 882, yMin: -0.1455, yMax: 1.6, lw: 2.6,
  data: dThPlusActive.map(([x, y]) => ({x, y})).concat(series(430, 2.5, dThPlusTail)),
  drugs: [
    {label: '100 µM Diltiazem', t0: 325.3, t1: 878, y: 1082, tl: 475.3, bl: 1067},
    {label: '50 pM S100B', t0: 601.7, t1: 878, y: 1065, tl: 739.6, bl: 1050}
  ],
  scale: {t0: 772.9, dt: 100, v0: -0.582, dv: 0.4, vText: '0.4 ΔF/F', vDx: -22, vDy: -10,
          tText: '100 sec', tDy: 43}
});
traceChart({
  box: {left: 0, top: 1345, width: 1981, height: 170},
  area: {left: 143, right: 1729, top: 1355, bottom: 1505},
  xMax: 891, yMin: -0.124, yMax: 0.967, lw: 2.6,
  data: dThMinusActive.map(([x, y]) => ({x, y})).concat(series(465, 2.5, dThMinusTail))
});

// ---------- panels (b) (c) (e) (f) ----------
const FREQ = 'Frequency (events/min)', AMP = 'Amplitude (ΔF/F)';

groupChart({left: 167, right: 545, top: 564, bottom: 883, yMin: -2, yMax: 16, ticks: [0, 4, 8, 12, 16],
  titleX: 101, title: FREQ, titleSize: 30, cats: catsB, colors: [BLACK, GREEN, BLUE],
  groups: [bFreqSpon, bFreqS100b, bFreqDilt], means: bFreqMean, sems: bFreqSem,
  sig: [{x1: 0.7, x2: 1.72, y: 14.46, tx: 0.857, stars: '*', txt: '= 0.02'},
        {x1: 1.71, x2: 2.74, y: 11.48, tx: 1.79, stars: '***', txt: '< 0.0001'}]});
groupChart({left: 626, right: 1015, top: 563, bottom: 883, yMin: -0.254, yMax: 3, ticks: [0, 1, 2, 3],
  titleX: 579, title: AMP, titleSize: 29, cats: catsB, colors: [BLACK, GREEN, BLUE],
  groups: [bAmpSpon, bAmpS100b, bAmpDilt], means: bAmpMean, sems: bAmpSem,
  sig: [{x1: 0.71, x2: 1.7, y: 2.146, tx: 0.8, stars: '', txt: '= 0.43'},
        {x1: 1.69, x2: 2.68, y: 2.77, tx: 1.77, stars: '', txt: '= 0.66'}]});
groupChart({left: 1193, right: 1538, top: 563, bottom: 883, yMin: -2, yMax: 16, ticks: [0, 4, 8, 12, 16],
  titleX: 1142, title: FREQ, titleSize: 28, cats: catsB, colors: [BLACK, GREEN, BLUE],
  groups: [cFreqSpon, cFreqS100b, cFreqDilt], means: cFreqMean, sems: cFreqSem,
  sig: [{x1: 0.71, x2: 1.74, y: 15.1, tx: 0.75, stars: '', txt: '= 0.22'},
        {x1: 1.73, x2: 2.74, y: 12.5, tx: 1.78, stars: '***', txt: '< 0.0001'}]});
groupChart({left: 1625, right: 1967, top: 563, bottom: 885, yMin: -0.25, yMax: 3, ticks: [0, 1, 2, 3],
  titleX: 1579, title: AMP, titleSize: 29, cats: catsB, colors: [BLACK, GREEN, BLUE],
  groups: [cAmpSpon, cAmpS100b, cAmpDilt], means: cAmpMean, sems: cAmpSem,
  sig: [{x1: 0.65, x2: 1.75, y: 2.03, tx: 0.71, stars: '', txt: '= 0.52'},
        {x1: 1.73, x2: 2.83, y: 2.6, tx: 1.79, stars: '', txt: '= 0.66'}]});
groupChart({left: 170, right: 542, top: 1681, bottom: 1995, yMin: -2, yMax: 12, ticks: [0, 4, 8, 12],
  titleX: 103, title: FREQ, titleSize: 30, cats: catsE, colors: [BLACK, BLUE, GREEN],
  groups: [eFreqSpon, eFreqDilt, eFreqS100b], means: eFreqMean, sems: eFreqSem,
  sig: [{x1: 0.7, x2: 1.7, y: 10.9, tx: 0.75, stars: '***', txt: '< 0.0001'},
        {x1: 1.7, x2: 2.69, y: 6.6, tx: 1.73, stars: '*', txt: '= 0.015'}]});
groupChart({left: 617, right: 1015, top: 1678, bottom: 1995, yMin: -1, yMax: 4, ticks: [0, 2, 4],
  titleX: 565, title: AMP, titleSize: 28.5, cats: catsE, colors: [BLACK, BLUE, GREEN],
  groups: [eAmpSpon, eAmpDilt, eAmpS100b], means: eAmpMean, sems: eAmpSem,
  sig: [{x1: 0.69, x2: 1.72, y: 3.4, tx: 0.75, stars: '*', txt: '= 0.038'},
        {x1: 1.7, x2: 2.68, y: 2.19, tx: 1.82, stars: '**', txt: '= 0.004'}]});
groupChart({left: 1199, right: 1541, top: 1678, bottom: 1995, yMin: -2, yMax: 12, ticks: [0, 4, 8, 12],
  titleX: 1140, title: FREQ, titleSize: 28.5, cats: catsE, colors: [BLACK, BLUE, GREEN],
  groups: [fFreqSpon, fFreqDilt, fFreqS100b], means: fFreqMean, sems: fFreqSem,
  sig: [{x1: 0.7, x2: 1.7, y: 7.26, tx: 0.72, stars: '**', txt: '= 0.002'},
        {x1: 1.7, x2: 2.7, y: 4.9, tx: 1.75, stars: '*', txt: '= 0.04'}]});
groupChart({left: 1630, right: 1981, top: 1677, bottom: 1994, yMin: -1, yMax: 4, ticks: [0, 2, 4],
  titleX: 1579, title: AMP, titleSize: 28.5, cats: catsE, colors: [BLACK, BLUE, GREEN],
  groups: [fAmpSpon, fAmpDilt, fAmpS100b], means: fAmpMean, sems: fAmpSem,
  sig: [{x1: 0.71, x2: 1.675, y: 2.91, tx: 0.74, stars: '', txt: '= 0.28'},
        {x1: 1.7, x2: 2.69, y: 1.87, tx: 1.72, stars: '', txt: '= 0.13'}]});

// ---------- panel letters, row labels, titles ----------
[['(a)', 7, 37], ['(b)', 7, 526], ['(c)', 1100, 526], ['(d)', 7, 1027], ['(e)', 7, 1623], ['(f)', 1103, 1623]]
  .forEach(([t, x, y]) => addLabel(t, x, y, 35));
[['TH+', 5, 235], ['TH-', 7, 438], ['TH+', 4, 742], ['TH-', 1050, 743], ['TH+', 5, 1269],
 ['TH-', 7, 1475], ['TH+', 4, 1877], ['TH-', 1050, 1877]]
  .forEach(([t, x, y]) => addLabel(t, x, y, 40));
[['Frequency', 363, 522], ['Amplitude', 841, 522], ['Frequency', 1390, 522], ['Amplitude', 1816, 522],
 ['Frequency', 363, 1618], ['Amplitude', 832, 1618], ['Frequency', 1390, 1618], ['Amplitude', 1816, 1618]]
  .forEach(([t, x, y]) => addLabel(t, x, y, 37, 'center'));
</script>
</body>
</html>
